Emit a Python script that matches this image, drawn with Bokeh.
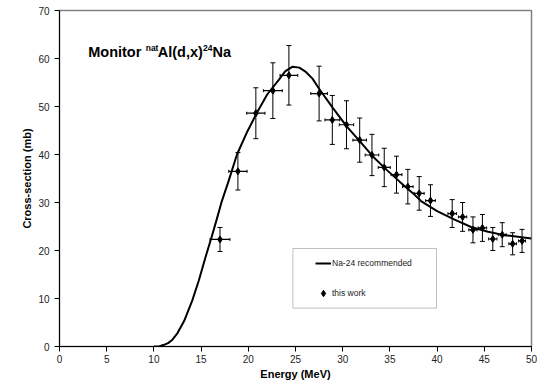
from bokeh.plotting import figure
from bokeh.models import (Whisker, ColumnDataSource, Label, BoxAnnotation, Legend,
                          LegendItem, TeeHead, FixedTicker, Range1d)
from bokeh.embed import file_html
from bokeh.resources import INLINE

# ---- data: this work (measured points) ----
energy = [17.0, 18.9, 20.8, 22.6, 24.3, 27.5, 28.9, 30.4, 31.8, 33.1, 34.4, 35.7,
          36.9, 38.1, 39.3, 41.6, 42.7, 43.8, 44.8, 45.9, 46.9, 48.0, 49.0]
cross_section = [22.3, 36.5, 48.6, 53.3, 56.5, 52.7, 47.2, 46.2, 43.0, 39.9, 37.3, 35.8,
                 33.3, 31.9, 30.4, 27.7, 27.0, 24.3, 24.7, 22.4, 23.3, 21.4, 22.0]
cross_section_err = [2.5, 3.9, 5.3, 5.8, 6.2, 5.7, 5.1, 5.0, 4.6, 4.3, 4.0, 3.85,
                     3.6, 3.5, 3.3, 2.9, 3.0, 2.7, 2.8, 2.4, 2.5, 2.3, 2.4]
energy_err = [1.05, 0.97, 0.97, 1.0, 0.94, 0.88, 0.78, 0.76, 0.72, 0.72, 0.64, 0.58,
              0.56, 0.53, 0.51, 0.45, 0.44, 0.44, 0.45, 0.44, 0.42, 0.40, 0.37]

# ---- data: Na-24 recommended curve ----
curve_energy = [10.0, 10.6, 11.0, 11.5, 11.9, 12.5, 13.2, 14.05, 14.75, 15.45, 16.1, 16.7,
                17.2, 17.9, 18.8, 19.9, 21.0, 22.0, 23.25, 23.9, 24.7, 25.4, 26.1, 26.8,
                27.5, 28.95, 30.4, 31.8, 33.2, 34.6, 36.0, 37.4, 38.3, 40.0, 41.8, 43.6,
                45.4, 47.1, 50.0]
curve_xs = [0.0, 0.05, 0.3, 0.7, 1.3, 2.8, 5.3, 9.5, 13.7, 18.5, 22.7, 26.8,
            30.3, 34.4, 40.0, 44.8, 49.0, 52.5, 55.6, 57.3, 58.3, 58.1, 57.2, 55.8,
            53.7, 49.7, 45.9, 42.8, 39.6, 36.9, 34.4, 32.0, 30.3, 28.2, 26.5, 24.9,
            23.9, 23.2, 22.5]

x_ticks = [0, 5, 10, 15, 20, 25, 30, 35, 40, 45, 50]
y_ticks = [0, 10, 20, 30, 40, 50, 60, 70]

FONT = "Liberation Sans"

p = figure(width=544, height=383, output_backend="svg", toolbar_location=None,
           x_range=Range1d(0, 50), y_range=Range1d(0, 70),
           min_border_left=59, min_border_right=13, min_border_top=10, min_border_bottom=37,
           x_axis_label="Energy (MeV)", y_axis_label="Cross-section (mb)")

p.grid.visible = False
p.outline_line_color = "#808080"
p.outline_line_width = 1.5
p.background_fill_color = "white"
p.border_fill_color = "white"

p.xaxis.ticker = FixedTicker(ticks=x_ticks)
p.yaxis.ticker = FixedTicker(ticks=y_ticks)
for ax in (p.xaxis, p.yaxis):
    ax.minor_tick_line_color = None
    ax.major_tick_in = 0
    ax.major_tick_out = 5
    ax.axis_line_color = "black"
    ax.axis_line_width = 1
    ax.major_tick_line_color = "black"
    ax.major_label_text_font = FONT
    ax.major_label_text_font_size = "10px"
    ax.major_label_text_color = "#222222"
    ax.axis_label_text_font = FONT
    ax.axis_label_text_font_style = "bold"
    ax.axis_label_text_font_size = "11px"
    ax.axis_label_text_color = "black"
    ax.axis_label_standoff = 2
p.yaxis.major_label_standoff = 5
p.xaxis.major_label_standoff = 3

src = ColumnDataSource(dict(
    e=energy, s=cross_section,
    s_lo=[s - d for s, d in zip(cross_section, cross_section_err)],
    s_hi=[s + d for s, d in zip(cross_section, cross_section_err)],
    e_lo=[e - d for e, d in zip(energy, energy_err)],
    e_hi=[e + d for e, d in zip(energy, energy_err)],
))

curve_r = p.line(curve_energy, curve_xs, line_color="black", line_width=2)

vw = Whisker(source=src, base="e", lower="s_lo", upper="s_hi", dimension="height",
             line_color="black", line_width=1,
             upper_head=TeeHead(size=5, line_color="black", line_width=1),
             lower_head=TeeHead(size=5, line_color="black", line_width=1))
hw = Whisker(source=src, base="s", lower="e_lo", upper="e_hi", dimension="width",
             line_color="black", line_width=1.2,
             upper_head=TeeHead(size=3, line_color="black", line_width=1),
             lower_head=TeeHead(size=3, line_color="black", line_width=1))
p.add_layout(vw)
p.add_layout(hw)

pts_r = p.scatter("e", "s", source=src, marker="diamond", size=7, color="black")

box = BoxAnnotation(left=233.4, right=377, top=98, bottom=38.4,
                    left_units="screen", right_units="screen",
                    top_units="screen", bottom_units="screen",
                    fill_color="white", fill_alpha=1, line_color="#333333", line_width=1)
p.add_layout(box)

legend = Legend(items=[LegendItem(label="Na-24 recommended", renderers=[curve_r]),
                       LegendItem(label="this work", renderers=[pts_r])],
                location=(256, 43), glyph_width=16, glyph_height=20, spacing=10,
                padding=0, margin=0, label_standoff=1,
                label_text_font=FONT, label_text_font_size="8.5px",
                label_text_color="#222222",
                border_line_alpha=0, background_fill_alpha=0)
p.add_layout(legend)

# title with superscripts
title_parts = [("Monitor ", 28.7, 294.7, "14.5px"),
               ("nat", 86.2, 298.8, "8.5px"),
               ("Al(d,x)", 98.2, 294.7, "14.5px"),
               ("24", 143.5, 298.8, "8.5px"),
               ("Na", 153.0, 294.7, "14.5px")]
for txt, tx, ty, fs in title_parts:
    p.add_layout(Label(x=tx, y=ty, x_units="screen", y_units="screen", text=txt,
                       text_font=FONT, text_font_style="bold", text_font_size=fs,
                       text_baseline="alphabetic", text_align="left", text_color="black"))

open("out.html", "w").write(file_html(p, INLINE))
